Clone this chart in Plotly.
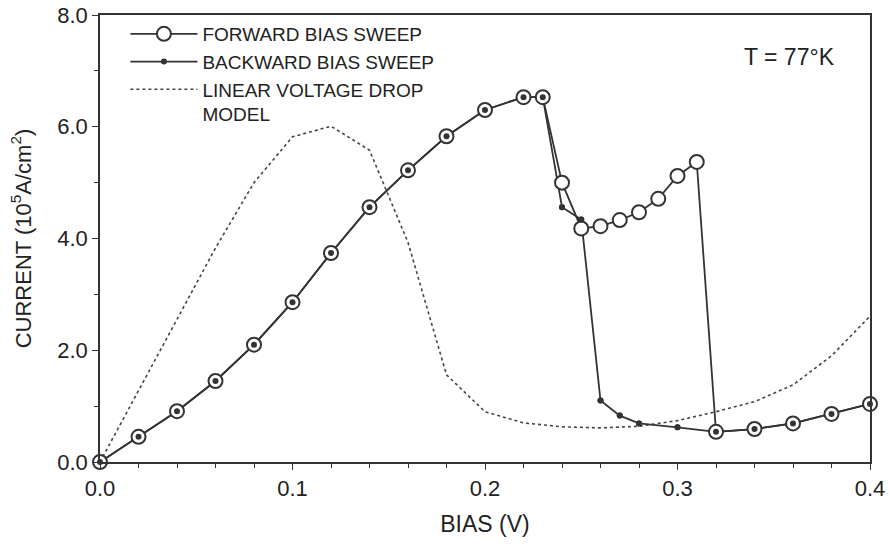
import plotly.graph_objects as go

# Forward bias sweep (open circles)
fwd_x = [0.00, 0.02, 0.04, 0.06, 0.08, 0.10, 0.12, 0.14, 0.16, 0.18, 0.20, 0.22, 0.23,
         0.24, 0.25, 0.26, 0.27, 0.28, 0.29, 0.30, 0.31, 0.32, 0.34, 0.36, 0.38, 0.40]
fwd_y = [0.00, 0.45, 0.91, 1.45, 2.10, 2.86, 3.74, 4.56, 5.22, 5.83, 6.30, 6.53, 6.53,
         5.00, 4.18, 4.22, 4.33, 4.47, 4.71, 5.12, 5.37, 0.54, 0.59, 0.69, 0.86, 1.04]

# Backward bias sweep (small filled dots), traced from 0.4 V back to 0 V
bwd_x = [0.40, 0.38, 0.36, 0.34, 0.32, 0.30, 0.28, 0.27, 0.26, 0.25, 0.24, 0.23, 0.22,
         0.20, 0.18, 0.16, 0.14, 0.12, 0.10, 0.08, 0.06, 0.04, 0.02, 0.00]
bwd_y = [1.04, 0.86, 0.69, 0.59, 0.54, 0.62, 0.69, 0.83, 1.10, 4.34, 4.56, 6.53, 6.53,
         6.30, 5.83, 5.22, 4.56, 3.74, 2.86, 2.10, 1.45, 0.91, 0.45, 0.00]

# Linear voltage drop model (dotted)
mod_x = [0.00, 0.06, 0.08, 0.10, 0.12, 0.14, 0.16, 0.18, 0.20, 0.22, 0.24, 0.26, 0.28,
         0.30, 0.32, 0.34, 0.36, 0.38, 0.40]
mod_y = [0.00, 3.83, 5.00, 5.82, 6.01, 5.58, 3.93, 1.56, 0.90, 0.70, 0.63, 0.61, 0.64,
         0.74, 0.90, 1.08, 1.38, 1.90, 2.61]

x_ticks = [0.0, 0.1, 0.2, 0.3, 0.4]
y_ticks = [0.0, 2.0, 4.0, 6.0, 8.0]

INK = "#333333"
FONT = "Liberation Sans, Arial, Helvetica, sans-serif"

fig = go.Figure()

fig.add_trace(go.Scatter(
    x=mod_x, y=mod_y, mode="lines", name="LINEAR VOLTAGE DROP<br>MODEL",
    line=dict(color="#444444", width=1.6, dash="dot"), legendrank=3,
    cliponaxis=False))

fig.add_trace(go.Scatter(
    x=bwd_x, y=bwd_y, mode="lines+markers", name="BACKWARD BIAS SWEEP",
    line=dict(color=INK, width=1.8),
    marker=dict(symbol="circle", size=6, color=INK), legendrank=2,
    cliponaxis=False))

fig.add_trace(go.Scatter(
    x=fwd_x, y=fwd_y, mode="lines+markers", name="FORWARD BIAS SWEEP",
    line=dict(color=INK, width=1.8),
    marker=dict(symbol="circle", size=14, color="white",
                line=dict(color=INK, width=2)), legendrank=1,
    cliponaxis=False))

fig.add_trace(go.Scatter(
    x=bwd_x, y=bwd_y, mode="markers", showlegend=False,
    marker=dict(symbol="circle", size=6, color=INK), hoverinfo="skip",
    cliponaxis=False))

fig.add_annotation(
    text="T = 77°K", x=0.896, y=0.905, xref="paper", yref="paper",
    xanchor="center", yanchor="middle", showarrow=False,
    font=dict(family=FONT, size=23, color="#222222"))

fig.update_layout(
    width=889, height=546,
    margin=dict(l=100, r=19, t=15, b=84, autoexpand=False),
    paper_bgcolor="white", plot_bgcolor="white",
    font=dict(family=FONT, size=22, color="#222222"),
    hovermode=False,
    showlegend=True,
    legend=dict(x=0.033, y=1.0, xanchor="left", yanchor="top",
                bgcolor="rgba(0,0,0,0)", font=dict(size=19, color="#222222"),
                tracegroupgap=0, itemwidth=67, valign="top",
                traceorder="normal"),
    xaxis=dict(
        range=[0, 0.4], tickvals=x_ticks, tickformat=".1f", automargin=False,
        ticks="outside", ticklen=6, tickwidth=1.2, tickcolor=INK,
        ticklabeloverflow="allow",
        minor=dict(dtick=0.02, ticks="outside", ticklen=4, tickcolor=INK),
        showline=True, linecolor=INK, linewidth=1.5, mirror=True,
        showgrid=False, zeroline=False,
        title=dict(text="BIAS (V)", font=dict(size=23), standoff=16)),
    yaxis=dict(
        range=[0, 8], tickvals=y_ticks, tickformat=".1f", automargin=False,
        ticks="outside", ticklen=6, tickwidth=1.2, tickcolor=INK,
        ticklabeloverflow="allow",
        minor=dict(dtick=1, ticks="outside", ticklen=4, tickcolor=INK),
        showline=True, linecolor=INK, linewidth=1.5, mirror=True,
        showgrid=False, zeroline=False,
        title=dict(text="CURRENT (10<sup>5</sup>A/cm<sup>2</sup>)",
                   font=dict(size=22), standoff=20)),
)

fig.write_html("out.html",
               config={"displayModeBar": False},
               post_script="document.body.style.margin='0';"
                           "document.body.style.overflow='hidden';")
